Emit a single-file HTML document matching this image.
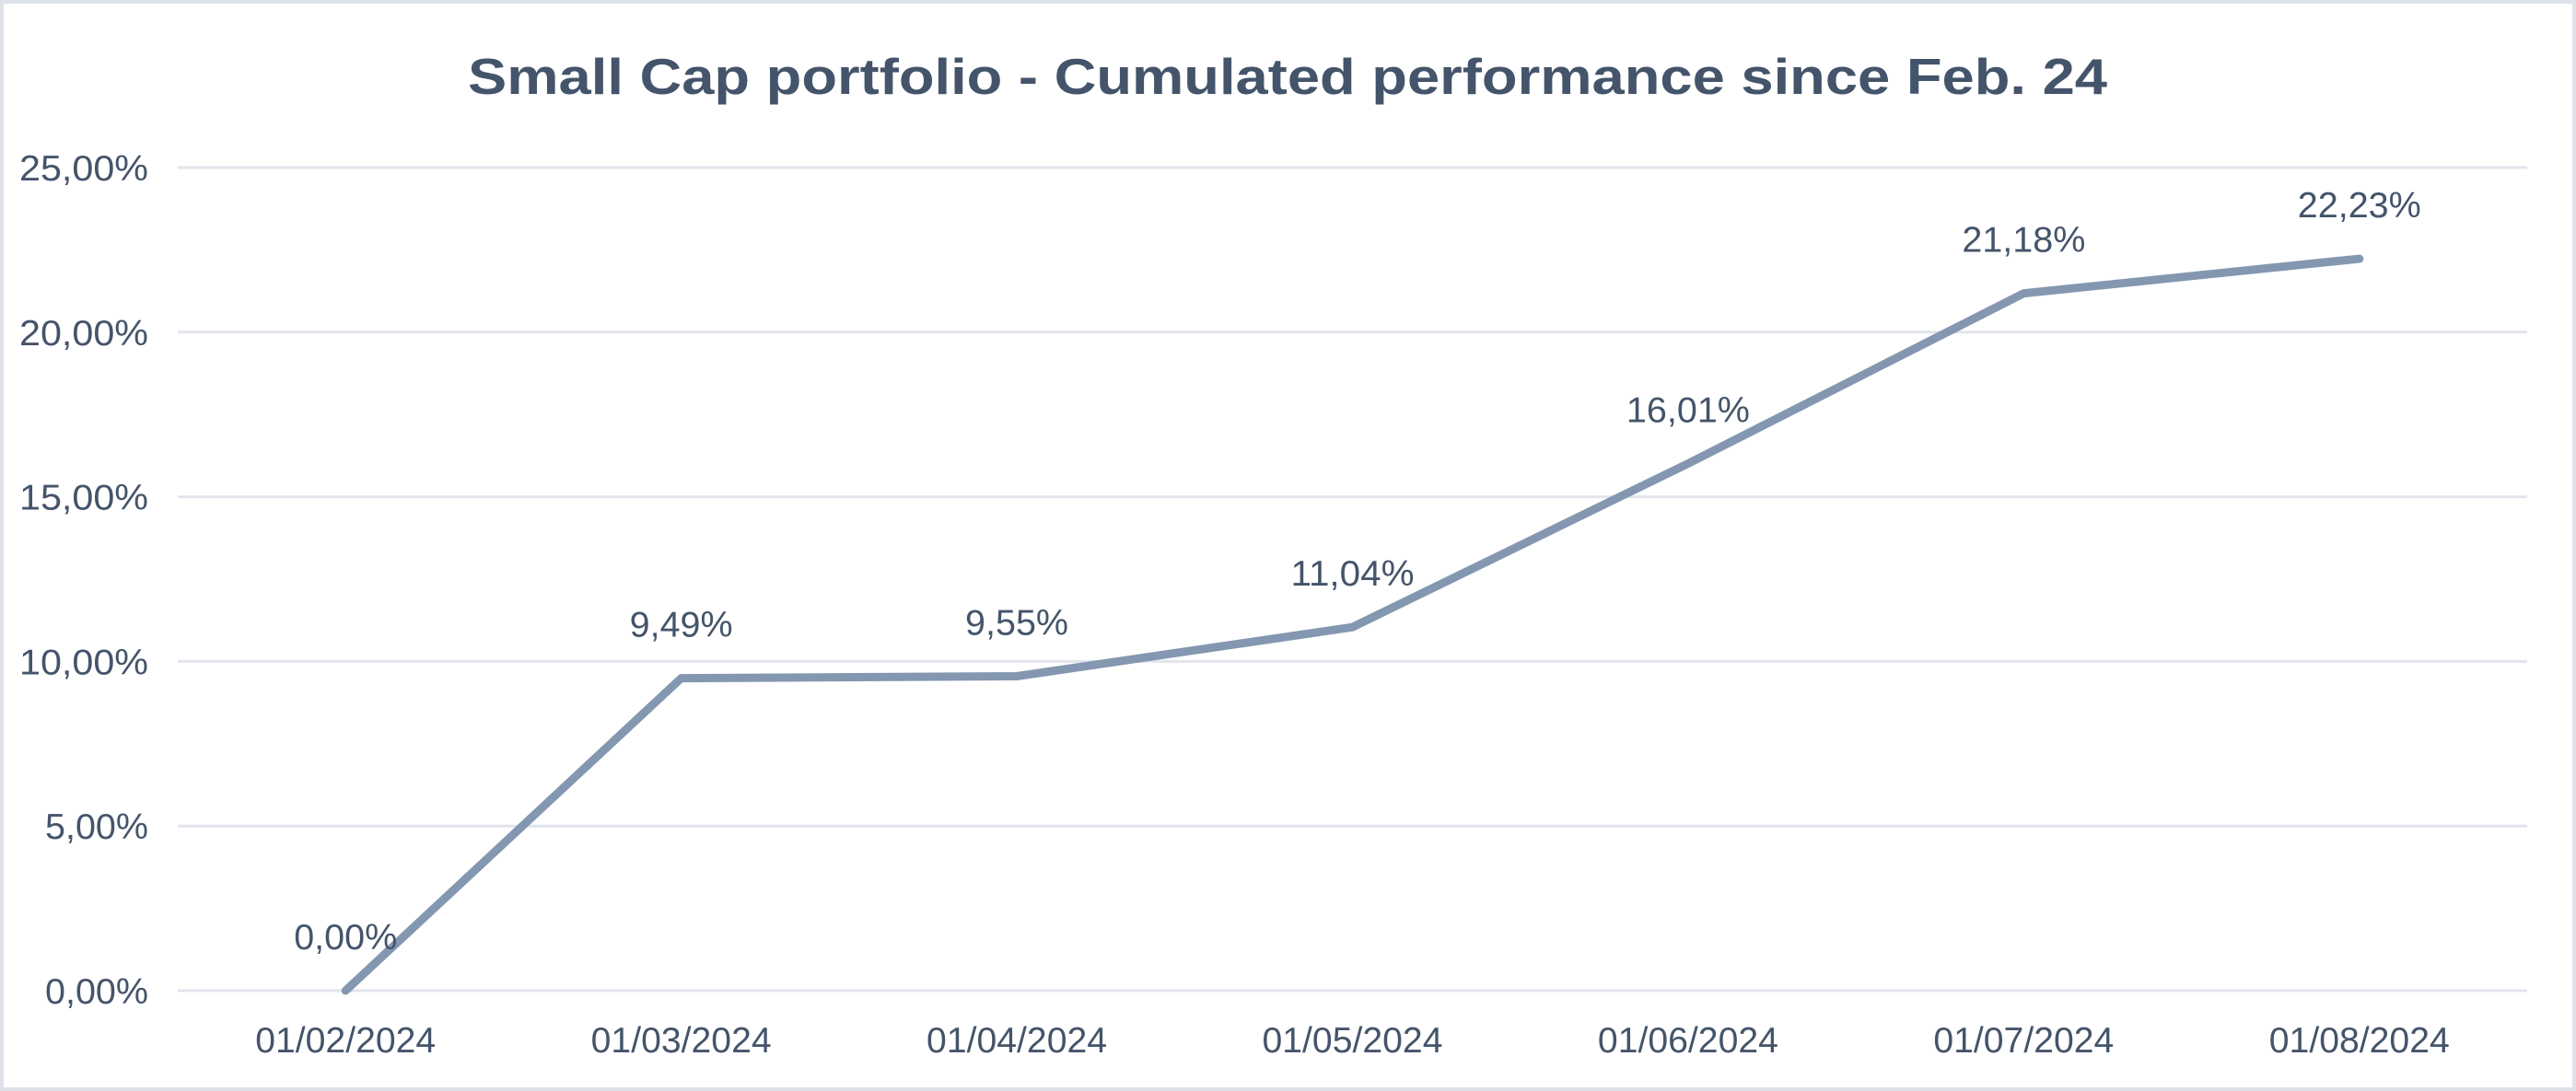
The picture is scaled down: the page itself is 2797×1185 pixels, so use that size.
<!DOCTYPE html>
<html><head><meta charset="utf-8"><style>
html,body{margin:0;padding:0;background:#fff}
svg{display:block}
text{font-family:"Liberation Sans",sans-serif;fill:#44546a}
</style></head><body>
<svg id="chart" width="2797" height="1185" viewBox="0 0 2797 1185" xmlns="http://www.w3.org/2000/svg">
<rect x="2" y="2" width="2793" height="1181" fill="#fff" stroke="#dde2e8" stroke-width="4"/>
<text x="1398" y="102" text-anchor="middle" font-size="55" font-weight="bold" textLength="1780" lengthAdjust="spacingAndGlyphs">Small Cap portfolio - Cumulated performance since Feb. 24</text>
<g id="grid"></g>
<g id="yaxis"></g>
<g id="xaxis"></g>
<g id="series"></g>
<g id="labels"></g>
</svg>
<script>
const categories = ["01/02/2024","01/03/2024","01/04/2024","01/05/2024","01/06/2024","01/07/2024","01/08/2024"];
const values = [0.00, 9.49, 9.55, 11.04, 16.01, 21.18, 22.23];
const valueLabels = ["0,00%","9,49%","9,55%","11,04%","16,01%","21,18%","22,23%"];
const yTicks = [0, 5, 10, 15, 20, 25];
const yTickLabels = ["0,00%","5,00%","10,00%","15,00%","20,00%","25,00%"];

const NS = "http://www.w3.org/2000/svg";
const plotL = 193, plotR = 2744, y0 = 1076, yTop = 182, yMax = 25;
function xPos(i){ const w=(plotR-plotL)/categories.length; return plotL + w*(i+0.5); }
function yPos(v){ return y0 - (v/yMax)*(y0-yTop); }
function mk(tag, attrs, parent){ const e=document.createElementNS(NS,tag); for(const k in attrs) e.setAttribute(k,attrs[k]); parent.appendChild(e); return e; }

const grid=document.getElementById('grid'), yaxis=document.getElementById('yaxis'),
      xaxis=document.getElementById('xaxis'), series=document.getElementById('series'), labels=document.getElementById('labels');

yTicks.forEach((t,i)=>{
  const l=mk('line',{x1:plotL,x2:plotR,y1:yPos(t),y2:yPos(t),stroke:'#e1e5eb','stroke-width':3},grid);
  
  
  const w = yTickLabels[i].length>5 ? 140 : 112;
  const tx=mk('text',{x:161,y:yPos(t)+14,'text-anchor':'end','font-size':39,textLength:w,lengthAdjust:'spacingAndGlyphs'},yaxis);
  tx.textContent=yTickLabels[i];
  
  
});

categories.forEach((c,i)=>{
  const tx=mk('text',{x:xPos(i),y:1143,'text-anchor':'middle','font-size':39,textLength:196,lengthAdjust:'spacingAndGlyphs'},xaxis);
  tx.textContent=c;
  
  
});

const pts=values.map((v,i)=>xPos(i)+','+yPos(v)).join(' ');
const pl=mk('polyline',{points:pts,fill:'none',stroke:'#8497b0','stroke-width':9,'stroke-linejoin':'round','stroke-linecap':'round'},series);



values.forEach((v,i)=>{
  const w = valueLabels[i].length>5 ? 134 : 112;
  const tx=mk('text',{x:xPos(i),y:yPos(v)-45,'text-anchor':'middle','font-size':39,textLength:w,lengthAdjust:'spacingAndGlyphs'},labels);
  tx.textContent=valueLabels[i];
  
  
});
</script>
</body></html>
